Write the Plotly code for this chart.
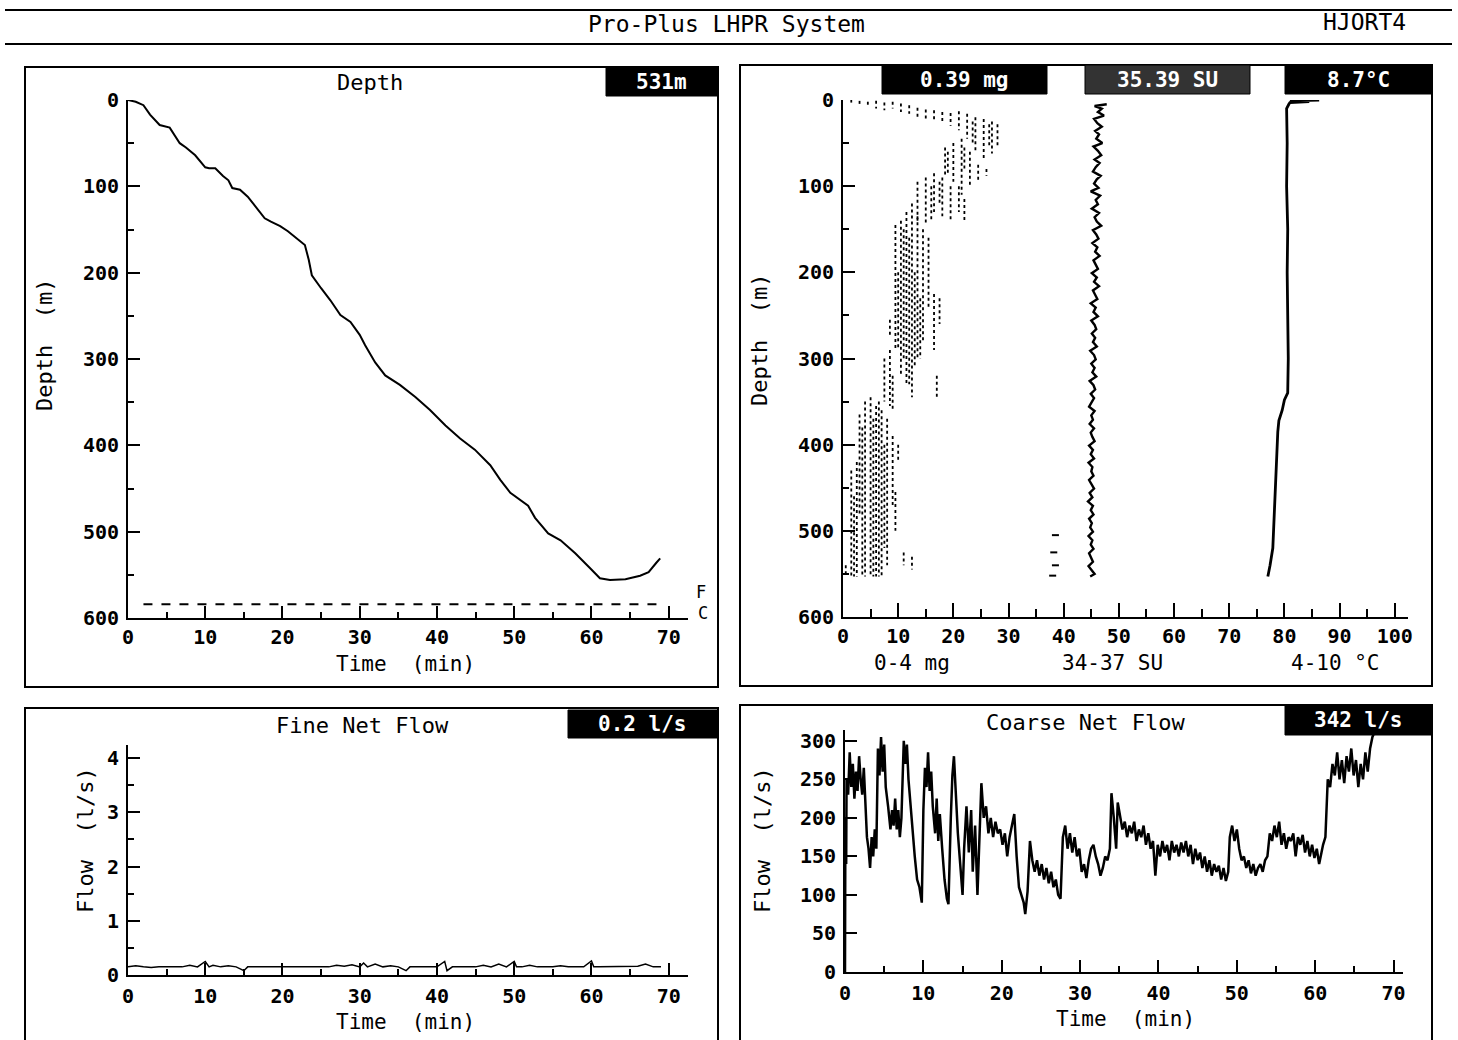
import plotly.graph_objects as go

W, H = 1458, 1040
FONT = "DejaVu Sans Mono"

# ---------------- data ----------------
depth_time = [0, 1.0, 2.0, 2.85, 4.1, 5.4, 6.7, 7.5, 8.7, 10.0, 10.5, 11.3, 12.3, 13.0, 13.5, 14.5,
              15.5, 16.5, 17.7, 18.5, 19.7, 20.7, 21.6, 22.9, 23.4, 23.8, 25.0, 26.2, 27.5, 28.8,
              30.0, 30.7, 32.0, 33.3, 35.2, 37.2, 39.1, 41.1, 43.0, 44.9, 46.9, 48.2, 49.5, 50.8,
              51.8, 52.7, 54.4, 56.0, 57.9, 59.8, 61.1, 62.4, 64.4, 66.3, 67.4, 68.4, 68.9]
depth_m = [0, 2, 6, 17, 29, 32, 50, 55, 64, 78, 79, 79, 88, 93, 102, 104,
           112, 124, 137, 141, 146, 152, 159, 168, 185, 203, 218, 232, 249, 257,
           272, 284, 304, 319, 330, 344, 359, 377, 392, 405, 423, 440, 455, 463,
           470, 484, 502, 510, 525, 542, 554, 556, 555, 551, 547, 536, 531]
fc_time = [2, 69]
fc_depth = [584, 584]

# mass profile (0-4 mg scaled 0-100): vertical dotted columns (value, top depth, bottom depth)
mass_val = [1.5, 3, 4.5, 6, 7.5, 9, 10.5, 12, 13.5, 15, 16.5, 18, 19.5, 21, 22.5, 24, 25.5, 27, 28,
            23.5, 26.5,
            18.5, 19, 20, 21.5, 22, 23, 24.5, 26,
            13.5, 15, 16, 16.5, 17.5, 18, 19.5, 21, 22,
            9.5, 10, 10.5, 11, 11.5, 12, 12.5, 13, 13.5, 14, 14.5, 15.5, 16.5, 17.5, 8.5, 17,
            7.5, 8.5, 9,
            2, 3, 3.5, 4, 5, 5.5, 6, 6.5, 7, 7.5, 8, 9, 1.5, 2.5, 9.5, 10, 11, 12.5, 0.5]
mass_top = [0, 1, 2, 1, 3, 2, 4, 6, 9, 11, 12, 14, 15, 13, 16, 20, 22, 25, 28,
            25, 28,
            55, 60, 50, 45, 55, 60, 75, 80,
            95, 90, 100, 85, 95, 90, 100, 100, 115,
            145, 200, 140, 150, 130, 160, 120, 200, 135, 230, 150, 160, 225, 230, 255, 320,
            300, 290, 320,
            460, 365, 380, 350, 345, 370, 355, 350, 360, 400, 370, 390, 430, 420, 455, 400, 525, 530, 540]
mass_bot = [3, 6, 8, 10, 12, 10, 14, 16, 20, 22, 25, 27, 30, 35, 45, 60, 70, 62, 55,
            50, 55,
            90, 85, 95, 110, 80, 100, 95, 88,
            140, 145, 140, 130, 120, 135, 140, 130, 140,
            290, 290, 320, 300, 330, 330, 345, 310, 300, 300, 280, 240, 290, 260, 275, 345,
            350, 355, 360,
            553, 480, 553, 553, 553, 553, 553, 553, 553, 520, 540, 470, 553, 553, 500, 420, 540, 545, 553]
mass_extra_val = [38.5, 38.2, 38.5, 38.0]
mass_extra_depth = [505, 525, 540, 552]

sal_depth = [5, 7, 10, 14, 18, 22, 27, 31, 36, 40, 45, 50, 54, 59, 64, 69, 73, 78, 83, 88, 92, 97,
             102, 106, 111, 116, 121, 126, 131, 136, 141, 146, 151, 156, 161, 166, 171, 176, 181,
             186, 191, 196, 201, 206, 211, 216, 221, 226, 231, 236, 241, 246, 251, 256, 261, 266,
             271, 276, 281, 286, 291, 296, 301, 306, 311, 316, 321, 326, 331, 336, 341, 346, 351,
             356, 361, 366, 371, 376, 381, 386, 391, 396, 401, 406, 411, 416, 421, 426, 431, 436,
             441, 446, 451, 456, 461, 466, 471, 476, 481, 486, 491, 496, 501, 506, 511, 516, 521,
             526, 531, 536, 541, 546, 550, 553]
sal_val = [47.8, 45.6, 46.9, 46.2, 47.3, 45.5, 46.1, 46.9, 45.7, 46.4, 45.9, 47.0, 45.4, 46.2,
           46.8, 45.6, 46.5, 45.8, 45.3, 46.7, 46.0, 45.5, 46.3, 44.9, 46.6, 45.8, 46.2, 45.1,
           46.4, 45.6, 46.0, 46.8, 45.3, 45.9, 46.3, 45.2, 46.1, 45.7, 46.5, 45.4, 45.8, 46.2,
           45.1, 46.0, 45.5, 46.4, 45.3, 45.7, 46.1, 44.9, 45.8, 45.4, 46.2, 45.0, 45.6, 45.9,
           45.1, 45.7, 45.3, 46.0, 44.8, 45.5, 45.8, 45.0, 45.6, 45.2, 45.9, 44.7, 45.4, 45.7,
           44.9, 45.5, 45.1, 44.6, 45.6, 45.0, 45.3, 44.7, 45.5, 44.9, 45.2, 45.6, 44.6, 45.3,
           44.9, 45.5, 44.5, 45.2, 45.0, 45.4, 44.6, 45.1, 45.5, 44.7, 45.2, 44.4, 45.3, 44.9,
           45.4, 44.6, 45.1, 44.8, 45.3, 44.5, 45.2, 44.9, 45.4, 44.6, 45.0, 45.3, 44.5, 45.2,
           45.6, 44.8]

temp_depth = [0, 1, 2, 3, 5, 10, 50, 100, 150, 200, 250, 300, 340, 348, 360, 372, 385, 400, 450, 500,
              520, 540, 553]
temp_val = [86.3, 81.0, 84.5, 81.0, 80.8, 80.4, 80.5, 80.4, 80.6, 80.5, 80.6, 80.7, 80.6, 80.0,
            79.6, 79.0, 78.8, 78.7, 78.4, 78.1, 77.9, 77.4, 77.0]

fine_time = [0, 1, 2, 3, 4, 5, 6, 7, 8, 9, 10, 10.5, 11, 12, 13, 14, 15, 15.5, 16, 17, 18, 19, 20,
             21, 22, 23, 24, 25, 26, 27, 28, 29, 30, 30.5, 31, 32, 33, 34, 35, 36, 36.5, 37, 38,
             39, 40, 41, 41.3, 42, 43, 44, 45, 46, 47, 48, 49, 50, 50.3, 51, 52, 53, 54, 55, 56,
             57, 58, 59, 60, 60.3, 61, 62, 63, 64, 65, 66, 67, 68, 69]
fine_flow = [0.15, 0.17, 0.15, 0.14, 0.15, 0.15, 0.16, 0.15, 0.18, 0.15, 0.25, 0.15, 0.18, 0.15,
             0.17, 0.15, 0.08, 0.15, 0.15, 0.15, 0.15, 0.14, 0.15, 0.15, 0.15, 0.15, 0.15, 0.15,
             0.15, 0.18, 0.16, 0.19, 0.15, 0.22, 0.15, 0.20, 0.15, 0.17, 0.15, 0.08, 0.15, 0.15,
             0.15, 0.15, 0.15, 0.25, 0.08, 0.15, 0.15, 0.16, 0.15, 0.18, 0.15, 0.20, 0.15, 0.25,
             0.15, 0.15, 0.18, 0.15, 0.15, 0.15, 0.17, 0.15, 0.15, 0.15, 0.26, 0.15, 0.15, 0.15,
             0.15, 0.15, 0.15, 0.16, 0.20, 0.15, 0.15]

coarse_time = [0.0, 0.05, 0.15, 0.2, 0.4, 0.6, 0.8, 1.0, 1.2, 1.4, 1.6, 1.8, 2.0, 2.2, 2.4, 2.6, 2.8,
               3.0, 3.2, 3.4, 3.6, 3.8, 4.0, 4.2, 4.4, 4.6, 4.8, 5.0, 5.2, 5.5, 5.8, 6.0, 6.2, 6.4,
               6.6, 6.8, 7.0, 7.2, 7.5, 7.7, 7.9, 8.1, 8.3, 8.6, 8.9, 9.2, 9.5, 9.8, 10.0, 10.2,
               10.4, 10.6, 10.8, 11.0, 11.2, 11.5, 11.7, 11.9, 12.1, 12.4, 12.7, 13.0, 13.2, 13.5,
               13.7, 13.9, 14.1, 14.4, 14.7, 15.0, 15.2, 15.5, 15.8, 16.1, 16.3, 16.6, 16.9, 17.1,
               17.4, 17.7, 18.0, 18.3, 18.6, 18.9, 19.2, 19.5, 19.8, 20.1, 20.4, 20.7, 21.0, 21.3,
               21.6, 21.9, 22.2, 22.5, 22.8, 23.0, 23.3, 23.6, 23.9, 24.2, 24.5, 24.8, 25.1, 25.4,
               25.7, 26.0, 26.3, 26.6, 26.9, 27.2, 27.5, 27.8, 28.1, 28.4, 28.7, 29.0, 29.3, 29.6,
               29.9, 30.2, 30.5, 30.8, 31.1, 31.4, 31.7, 32.0, 32.3, 32.6, 32.9, 33.2, 33.5, 33.8,
               34.0, 34.3, 34.6, 34.8, 35.1, 35.4, 35.7, 36.0, 36.3, 36.6, 36.9, 37.2, 37.5, 37.8,
               38.1, 38.4, 38.7, 39.0, 39.3, 39.6, 39.9, 40.2, 40.5, 40.8, 41.1, 41.4, 41.7, 42.0,
               42.3, 42.6, 42.9, 43.2, 43.5, 43.8, 44.1, 44.4, 44.7, 45.0, 45.3, 45.6, 45.9, 46.2,
               46.5, 46.8, 47.1, 47.4, 47.7, 48.0, 48.3, 48.6, 48.9, 49.1, 49.4, 49.7, 50.0, 50.3,
               50.6, 50.9, 51.2, 51.5, 51.8, 52.1, 52.4, 52.7, 53.0, 53.3, 53.6, 53.9, 54.2, 54.5,
               54.8, 55.1, 55.4, 55.7, 56.0, 56.3, 56.6, 56.9, 57.2, 57.5, 57.8, 58.1, 58.4, 58.7,
               59.0, 59.3, 59.6, 59.9, 60.2, 60.5, 60.8, 61.0, 61.3, 61.6, 61.9, 62.2, 62.5, 62.8,
               63.1, 63.4, 63.7, 64.0, 64.3, 64.6, 64.9, 65.2, 65.5, 65.8, 66.1, 66.4, 66.7, 67.0,
               67.3, 67.6]
coarse_flow = [0, 200, 140, 250, 230, 285, 240, 270, 225, 260, 235, 280, 250, 230, 265, 215, 175,
               160, 135, 175, 150, 185, 160, 290, 255, 305, 260, 295, 240, 215, 185, 210, 190, 225,
               185, 210, 175, 200, 300, 270, 295, 250, 225, 180, 150, 120, 110, 90, 210, 265,
               240, 285, 235, 260, 215, 180, 225, 170, 205, 160, 120, 95, 88, 200,
               255, 280, 240, 180, 140, 100, 160, 215, 155, 210, 130, 190, 100, 170,
               245, 200, 215, 180, 200, 175, 195, 180, 185, 165, 180, 150, 175, 190,
               205, 150, 110, 100, 90, 75, 105, 170, 145, 130, 145, 125, 140, 120,
               135, 115, 130, 110, 120, 100, 95, 175, 190, 160, 180, 155, 175, 150,
               160, 130, 140, 122, 145, 160, 165, 150, 140, 125, 135, 150, 145, 160,
               232, 200, 160, 220, 200, 185, 195, 175, 190, 180, 195, 170, 185, 175,
               190, 165, 180, 160, 170, 125, 165, 150, 170, 155, 165, 145, 170, 155,
               165, 150, 168, 155, 170, 150, 165, 140, 160, 145, 155, 135, 150, 130,
               145, 125, 140, 130, 138, 120, 135, 118, 130, 175, 190, 170, 185, 160,
               145, 150, 135, 145, 128, 140, 125, 135, 140, 130, 145, 150, 180, 170,
               190, 175, 195, 165, 180, 160, 175, 170, 180, 150, 175, 165, 178, 155,
               170, 150, 165, 148, 160, 140, 155, 165, 175, 250, 240, 270, 255, 285,
               250, 275, 245, 280, 260, 290, 255, 275, 240, 270, 250, 285, 260, 290,
               305, 312]

# ---------------- helpers ----------------
def px(x):
    return x / W

def py(y):
    return 1 - y / H

fig = go.Figure()

# Panel 1: depth vs time
fig.add_trace(go.Scatter(x=depth_time, y=depth_m, mode="lines",
                         line=dict(color="black", width=2), xaxis="x", yaxis="y"))
fig.add_trace(go.Scatter(x=fc_time, y=fc_depth, mode="lines",
                         line=dict(color="black", width=2, dash="dash"), xaxis="x", yaxis="y"))

# Panel 2: profiles
mx, my = [], []
for v, t, b in zip(mass_val, mass_top, mass_bot):
    mx += [v, v, None]
    my += [t, b, None]
fig.add_trace(go.Scatter(x=mx, y=my, mode="lines",
                         line=dict(color="black", width=1.8, dash="dot"), xaxis="x2", yaxis="y2"))
fig.add_trace(go.Scatter(x=mass_extra_val, y=mass_extra_depth, mode="markers",
                         marker=dict(symbol="line-ew", size=5, line=dict(color="black", width=2)),
                         xaxis="x2", yaxis="y2"))
fig.add_trace(go.Scatter(x=sal_val, y=sal_depth, mode="lines",
                         line=dict(color="black", width=2.4), xaxis="x2", yaxis="y2"))
fig.add_trace(go.Scatter(x=temp_val, y=temp_depth, mode="lines",
                         line=dict(color="black", width=2.8), xaxis="x2", yaxis="y2"))

# Panel 3: fine net flow
fig.add_trace(go.Scatter(x=fine_time, y=fine_flow, mode="lines",
                         line=dict(color="black", width=1.5), xaxis="x3", yaxis="y3"))

# Panel 4: coarse net flow
fig.add_trace(go.Scatter(x=coarse_time, y=coarse_flow, mode="lines",
                         line=dict(color="black", width=2.5), xaxis="x4", yaxis="y4"))

tickfont = dict(family=FONT, size=20, color="black", weight=700)


def xax(dom, rng, dtick, minor_dtick, anchor, standoff, ticklen=12, minorlen=6):
    return dict(domain=[px(dom[0]), px(dom[1])], range=rng, anchor=anchor, automargin=False,
                showline=True, linecolor="black", linewidth=2, showgrid=False, zeroline=False,
                ticks="inside", ticklen=ticklen, tickwidth=2, tickcolor="black",
                dtick=dtick, tick0=0, tickfont=tickfont, ticklabelstandoff=standoff,
                minor=dict(dtick=minor_dtick, ticks="inside", ticklen=minorlen,
                           tickwidth=2, tickcolor="black", showgrid=False) if minor_dtick else None)


def yax(dom, rng, dtick, minor_dtick, anchor, ticklen=12, minorlen=6):
    return dict(domain=[py(dom[1]), py(dom[0])], range=rng, anchor=anchor, automargin=False,
                showline=True, linecolor="black", linewidth=2, showgrid=False, zeroline=False,
                ticks="inside", ticklen=ticklen, tickwidth=2, tickcolor="black",
                dtick=dtick, tick0=0, tickfont=tickfont, ticklabelstandoff=3,
                minor=dict(dtick=minor_dtick, ticks="inside", ticklen=minorlen,
                           tickwidth=2, tickcolor="black", showgrid=False) if minor_dtick else None)


layout = dict(
    width=W, height=H, margin=dict(l=0, r=0, t=0, b=0, autoexpand=False),
    paper_bgcolor="white", plot_bgcolor="white", showlegend=False,
    xaxis=xax((128, 688), [0, 72.5], 10, 5, "y", 0),
    yaxis=yax((100, 618), [600, 0], 100, 50, "x"),
    xaxis2=xax((843, 1408), [0, 102.4], 10, 5, "y2", 0, ticklen=14, minorlen=8),
    yaxis2=yax((100, 617), [600, 0], 100, 50, "x2"),
    xaxis3=xax((128, 688), [0, 72.5], 10, 5, "y3", 2),
    yaxis3=yax((745, 975), [0, 4.24], 1, 0.5, "x3"),
    xaxis4=xax((845, 1403), [0, 71.2], 10, 5, "y4", 2),
    yaxis4=yax((730, 972), [0, 314], 50, None, "x4"),
)
fig.update_layout(**layout)

shapes = []
# header rules
shapes.append(dict(type="line", xref="paper", yref="paper", x0=px(5), x1=px(1452), y0=py(10), y1=py(10),
                   line=dict(color="black", width=2)))
shapes.append(dict(type="line", xref="paper", yref="paper", x0=px(5), x1=px(1452), y0=py(44), y1=py(44),
                   line=dict(color="black", width=2)))
# panel frames
for (x0, y0, x1, y1) in [(25, 67, 718, 687), (740, 65, 1432, 686), (25, 708, 718, 1046), (740, 705, 1432, 1046)]:
    shapes.append(dict(type="rect", xref="paper", yref="paper", x0=px(x0), x1=px(x1), y0=py(y1), y1=py(y0),
                       line=dict(color="black", width=2), fillcolor="rgba(0,0,0,0)"))
# value boxes
boxes = [((606, 67, 717, 96), "531m", "black"),
         ((882, 65, 1047, 94), "0.39 mg", "black"),
         ((1085, 65, 1250, 94), "35.39 SU", "#333333"),
         ((1285, 65, 1432, 94), "8.7°C", "black"),
         ((568, 710, 717, 738), "0.2 l/s", "black"),
         ((1285, 705, 1432, 735), "342 l/s", "black")]
annotations = []
for (x0, y0, x1, y1), txt, col in boxes:
    shapes.append(dict(type="rect", xref="paper", yref="paper", x0=px(x0), x1=px(x1), y0=py(y1), y1=py(y0),
                       line=dict(color="black", width=1), fillcolor=col))
    annotations.append(dict(text=txt, x=px((x0 + x1) / 2), y=py((y0 + y1) / 2), xref="paper", yref="paper",
                            showarrow=False, xanchor="center", yanchor="middle",
                            font=dict(family=FONT, size=21, color="white", weight=700)))

fig.update_layout(shapes=shapes)


def ann(text, x, y, size=22, angle=0, weight=400, xanchor="center"):
    annotations.append(dict(text=text, x=px(x), y=py(y), xref="paper", yref="paper", showarrow=False,
                            xanchor=xanchor, yanchor="middle", textangle=angle,
                            font=dict(family=FONT, size=size, color="black", weight=weight)))


ann("Pro-Plus LHPR System", 726, 24, size=23)
ann("HJORT4", 1364, 22, size=23)
ann("Depth", 370, 83, size=22)
ann("Depth  (m)", 45, 345, size=22, angle=-90)
ann("Time  (min)", 405, 664, size=21)
ann("F", 701, 592, size=17)
ann("C", 703, 613, size=17)
ann("Depth  (m)", 760, 340, size=22, angle=-90)
ann("0-4 mg", 912, 663, size=21)
ann("34-37 SU", 1112, 663, size=21)
ann("4-10 °C", 1335, 663, size=21)
ann("Fine Net Flow", 362, 725, size=22)
ann("Flow  (l/s)", 85, 840, size=22, angle=-90)
ann("Time  (min)", 405, 1022, size=21)
ann("Coarse Net Flow", 1085, 722, size=22)
ann("Flow  (l/s)", 762, 840, size=22, angle=-90)
ann("Time  (min)", 1125, 1019, size=21)

fig.update_layout(annotations=annotations)

fig.write_html("out.html")
